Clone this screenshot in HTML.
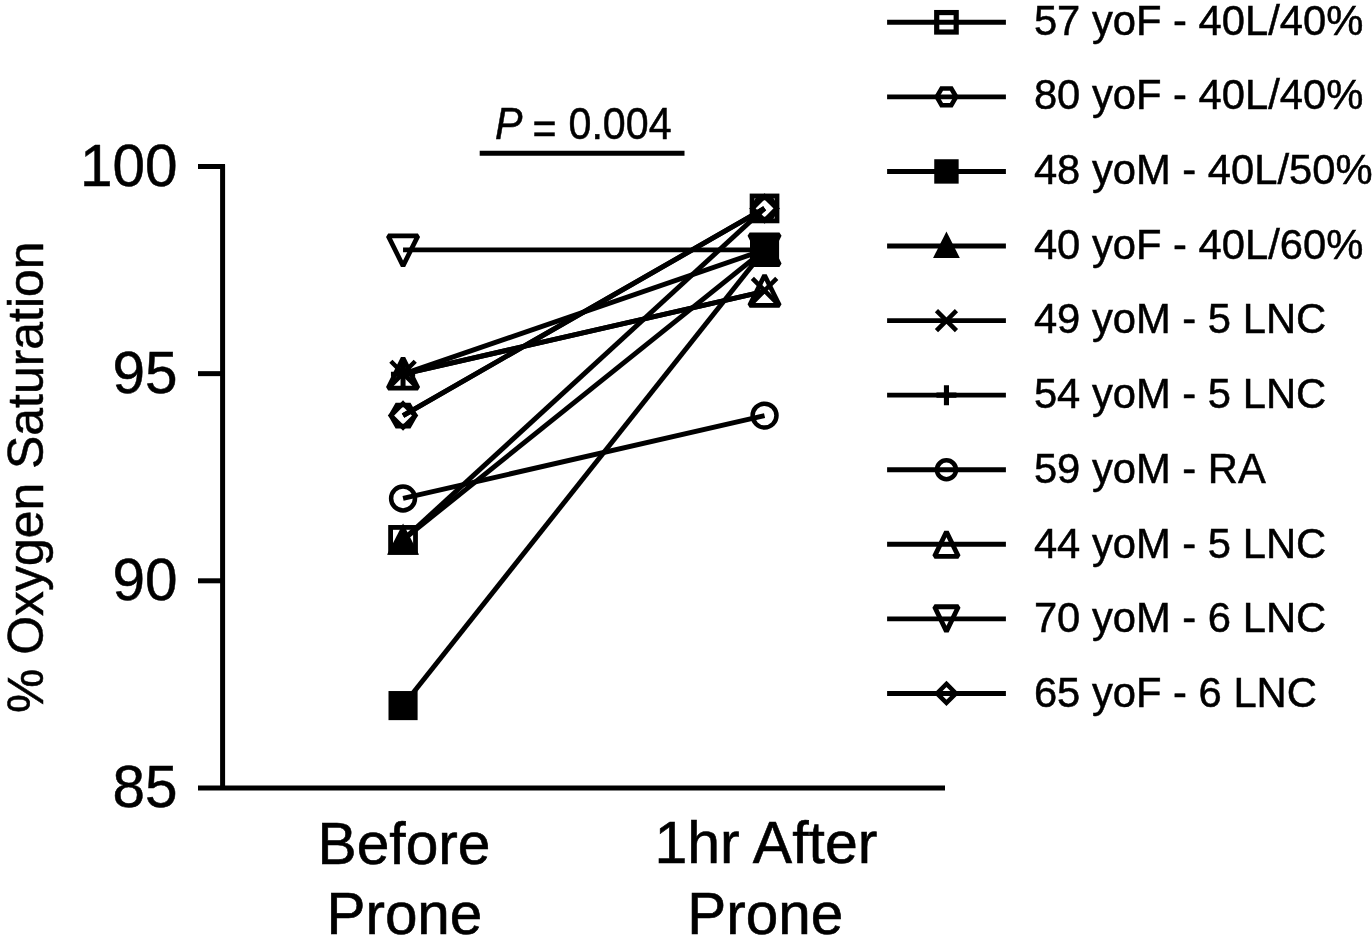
<!DOCTYPE html>
<html lang="en">
<head>
<meta charset="utf-8">
<title>Oxygen saturation before and after prone positioning</title>
<style>
html,body{margin:0;padding:0;background:#fff;}
body{width:1372px;height:947px;overflow:hidden;}
svg{display:block;}
text{font-family:"Liberation Sans",Arial,Helvetica,sans-serif;fill:#000;}
</style>
</head>
<body>
<svg width="1372" height="947" viewBox="0 0 1372 947">
<rect width="1372" height="947" fill="#fff"/>

<g stroke="#000" stroke-width="5" fill="none" stroke-linecap="butt">
<path d="M222.6,164.40L222.6,788"/>
<path d="M198,788L945,788"/>
<path d="M198,166.50L225,166.50"/>
<path d="M198,373.65L225,373.65"/>
<path d="M198,580.80L225,580.80"/>
</g>
<text transform="translate(177.50 185.80) scale(0.975 1.003)" font-size="60" text-anchor="end" stroke="#000" stroke-width="0.5">100</text>
<text transform="translate(177.50 392.95) scale(0.975 1.003)" font-size="60" text-anchor="end" stroke="#000" stroke-width="0.5">95</text>
<text transform="translate(177.50 600.10) scale(0.975 1.003)" font-size="60" text-anchor="end" stroke="#000" stroke-width="0.5">90</text>
<text transform="translate(177.50 807.25) scale(0.975 1.003)" font-size="60" text-anchor="end" stroke="#000" stroke-width="0.5">85</text>
<text transform="translate(43.00 477.20) rotate(-90) scale(0.998 1.015)" font-size="50" text-anchor="middle" stroke="#000" stroke-width="0.5">% Oxygen Saturation</text>
<text transform="translate(404.00 863.50) scale(0.995 1.008)" font-size="59" text-anchor="middle" stroke="#000" stroke-width="0.6">Before</text>
<text transform="translate(404.40 933.80) scale(0.99 1.008)" font-size="59" text-anchor="middle" stroke="#000" stroke-width="0.6">Prone</text>
<text transform="translate(765.90 863.30) scale(1.0 1.008)" font-size="59" text-anchor="middle" stroke="#000" stroke-width="0.6">1hr After</text>
<text transform="translate(765.30 933.50) scale(0.99 1.008)" font-size="59" text-anchor="middle" stroke="#000" stroke-width="0.6">Prone</text>
<text transform="translate(583.30 138.80) scale(0.981 1.04)" font-size="42" text-anchor="middle" stroke="#000" stroke-width="0.5"><tspan font-style="italic">P</tspan><tspan dx="-1.6" dy="3.6"> =</tspan><tspan dx="0.6" dy="-3.6"> 0.004</tspan></text>
<path d="M479.7,153.2L684.5,153.2" stroke="#000" stroke-width="4.9" fill="none"/>
<g stroke="#000" stroke-width="4.9" fill="none">
<path d="M403.05,539.87L764.55,208.43"/>
<path d="M403.05,415.58L764.55,208.43"/>
<path d="M403.05,705.59L764.55,249.86"/>
<path d="M403.05,539.87L764.55,249.86"/>
<path d="M403.05,374.15L764.55,291.29"/>
<path d="M403.05,374.15L764.55,249.86"/>
<path d="M403.05,498.44L764.55,415.58"/>
<path d="M403.05,374.15L764.55,291.29"/>
<path d="M403.05,249.86L764.55,249.86"/>
<path d="M403.05,415.58L764.55,208.43"/>
</g>
<rect transform="translate(403.05 539.87)" x="-12.45" y="-12.45" width="24.9" height="24.9" fill="none" stroke="#000" stroke-width="4.8" stroke-linejoin="miter"/>
<rect transform="translate(764.55 208.43)" x="-12.45" y="-12.45" width="24.9" height="24.9" fill="none" stroke="#000" stroke-width="4.8" stroke-linejoin="miter"/>
<polygon transform="translate(403.05 415.58)" points="-12.20,0.00 -6.10,-10.55 6.10,-10.55 12.20,0.00 6.10,10.55 -6.10,10.55" fill="none" stroke="#000" stroke-width="4.6" stroke-linejoin="miter"/>
<polygon transform="translate(764.55 208.43)" points="-12.20,0.00 -6.10,-10.55 6.10,-10.55 12.20,0.00 6.10,10.55 -6.10,10.55" fill="none" stroke="#000" stroke-width="4.6" stroke-linejoin="miter"/>
<rect transform="translate(403.05 705.59)" x="-14.55" y="-14.55" width="29.1" height="29.1" fill="#000"/>
<rect transform="translate(764.55 249.86)" x="-14.55" y="-14.55" width="29.1" height="29.1" fill="#000"/>
<polygon transform="translate(403.05 539.87)" points="0.00,-16.30 16.00,14.80 -16.00,14.80" fill="#000"/>
<polygon transform="translate(764.55 249.86)" points="0.00,-16.30 16.00,14.80 -16.00,14.80" fill="#000"/>
<path transform="translate(403.05 374.15)" d="M-12.2,-12.899999999999999L12.2,11.5M-12.2,11.5L12.2,-12.899999999999999" fill="none" stroke="#000" stroke-width="4.5" stroke-linejoin="miter"/>
<path transform="translate(764.55 291.29)" d="M-12.2,-12.899999999999999L12.2,11.5M-12.2,11.5L12.2,-12.899999999999999" fill="none" stroke="#000" stroke-width="4.5" stroke-linejoin="miter"/>
<path transform="translate(403.05 374.15)" d="M0,-12.1L0,12.1M-12.1,0L12.1,0" fill="none" stroke="#000" stroke-width="5.0" stroke-linejoin="miter"/>
<path transform="translate(764.55 249.86)" d="M0,-12.1L0,12.1M-12.1,0L12.1,0" fill="none" stroke="#000" stroke-width="5.0" stroke-linejoin="miter"/>
<circle transform="translate(403.05 498.44)" r="11.94" fill="none" stroke="#000" stroke-width="4.5" stroke-linejoin="miter"/>
<circle transform="translate(764.55 415.58)" r="11.94" fill="none" stroke="#000" stroke-width="4.5" stroke-linejoin="miter"/>
<polygon transform="translate(403.05 374.15)" points="0.00,-16.00 14.90,14.00 -14.90,14.00" fill="none" stroke="#000" stroke-width="4.7" stroke-linejoin="bevel"/>
<polygon transform="translate(764.55 291.29)" points="0.00,-16.00 14.90,14.00 -14.90,14.00" fill="none" stroke="#000" stroke-width="4.7" stroke-linejoin="bevel"/>
<polygon transform="translate(403.05 249.86)" points="0.00,16.00 14.90,-14.00 -14.90,-14.00" fill="none" stroke="#000" stroke-width="4.7" stroke-linejoin="bevel"/>
<polygon transform="translate(764.55 248.76)" points="0.00,16.00 14.90,-14.00 -14.90,-14.00" fill="none" stroke="#000" stroke-width="4.7" stroke-linejoin="bevel"/>
<polygon transform="translate(764.55 250.56)" points="0.00,-16.00 14.90,14.00 -14.90,14.00" fill="none" stroke="#000" stroke-width="4.7" stroke-linejoin="bevel"/>
<polygon transform="translate(403.05 415.58)" points="0.00,-12.10 12.10,0.00 0.00,12.10 -12.10,0.00" fill="none" stroke="#000" stroke-width="4.5" stroke-linejoin="miter"/>
<polygon transform="translate(764.55 208.43)" points="0.00,-12.10 12.10,0.00 0.00,12.10 -12.10,0.00" fill="none" stroke="#000" stroke-width="4.5" stroke-linejoin="miter"/>
<path d="M887.1,22.30L1005.9,22.30" stroke="#000" stroke-width="4.9" fill="none"/>
<rect transform="translate(946.45 22.30)" x="-9.74" y="-9.74" width="19.48" height="19.48" fill="none" stroke="#000" stroke-width="5.2" stroke-linejoin="miter"/>
<text transform="translate(1033.90 34.50) scale(0.994 1.03)" font-size="42" text-anchor="start" stroke="#000" stroke-width="0.5">57 yoF - 40L/40%</text>
<path d="M887.1,96.87L1005.9,96.87" stroke="#000" stroke-width="4.9" fill="none"/>
<polygon transform="translate(946.45 96.87)" points="-9.70,0.00 -4.85,-8.40 4.85,-8.40 9.70,0.00 4.85,8.40 -4.85,8.40" fill="none" stroke="#000" stroke-width="4.65" stroke-linejoin="miter"/>
<text transform="translate(1033.90 109.23) scale(0.994 1.03)" font-size="42" text-anchor="start" stroke="#000" stroke-width="0.5">80 yoF - 40L/40%</text>
<path d="M887.1,171.44L1005.9,171.44" stroke="#000" stroke-width="4.9" fill="none"/>
<rect transform="translate(946.45 171.44)" x="-12.2" y="-12.2" width="24.4" height="24.4" fill="#000"/>
<text transform="translate(1033.90 183.96) scale(0.994 1.03)" font-size="42" text-anchor="start" stroke="#000" stroke-width="0.5">48 yoM - 40L/50%</text>
<path d="M887.1,246.01L1005.9,246.01" stroke="#000" stroke-width="4.9" fill="none"/>
<polygon transform="translate(946.45 246.01)" points="0.00,-14.60 13.40,12.05 -13.40,12.05" fill="#000"/>
<text transform="translate(1033.90 258.69) scale(0.994 1.03)" font-size="42" text-anchor="start" stroke="#000" stroke-width="0.5">40 yoF - 40L/60%</text>
<path d="M887.1,320.58L1005.9,320.58" stroke="#000" stroke-width="4.9" fill="none"/>
<path transform="translate(946.45 320.58)" d="M-10.0,-10.0L10.0,10.0M-10.0,10.0L10.0,-10.0" fill="none" stroke="#000" stroke-width="4.5" stroke-linejoin="miter"/>
<text transform="translate(1033.90 333.42) scale(0.994 1.03)" font-size="42" text-anchor="start" stroke="#000" stroke-width="0.5">49 yoM - 5 LNC</text>
<path d="M887.1,395.15L1005.9,395.15" stroke="#000" stroke-width="4.9" fill="none"/>
<path transform="translate(946.45 395.15)" d="M0,-10.0L0,10.0M-10.0,0L10.0,0" fill="none" stroke="#000" stroke-width="5.1" stroke-linejoin="miter"/>
<text transform="translate(1033.90 408.15) scale(0.994 1.03)" font-size="42" text-anchor="start" stroke="#000" stroke-width="0.5">54 yoM - 5 LNC</text>
<path d="M887.1,469.72L1005.9,469.72" stroke="#000" stroke-width="4.9" fill="none"/>
<circle transform="translate(946.45 469.72)" r="9.5" fill="none" stroke="#000" stroke-width="4.6" stroke-linejoin="miter"/>
<text transform="translate(1033.90 482.88) scale(0.994 1.03)" font-size="42" text-anchor="start" stroke="#000" stroke-width="0.5">59 yoM - RA</text>
<path d="M887.1,544.29L1005.9,544.29" stroke="#000" stroke-width="4.9" fill="none"/>
<polygon transform="translate(946.45 544.29)" points="0.00,-12.50 11.90,12.10 -11.90,12.10" fill="none" stroke="#000" stroke-width="4.8" stroke-linejoin="bevel"/>
<text transform="translate(1033.90 557.61) scale(0.994 1.03)" font-size="42" text-anchor="start" stroke="#000" stroke-width="0.5">44 yoM - 5 LNC</text>
<path d="M887.1,618.86L1005.9,618.86" stroke="#000" stroke-width="4.9" fill="none"/>
<polygon transform="translate(946.45 618.86)" points="0.00,12.50 11.90,-12.10 -11.90,-12.10" fill="none" stroke="#000" stroke-width="4.8" stroke-linejoin="bevel"/>
<text transform="translate(1033.90 632.34) scale(0.994 1.03)" font-size="42" text-anchor="start" stroke="#000" stroke-width="0.5">70 yoM - 6 LNC</text>
<path d="M887.1,693.43L1005.9,693.43" stroke="#000" stroke-width="4.9" fill="none"/>
<polygon transform="translate(946.45 693.43)" points="0.00,-9.50 9.50,0.00 0.00,9.50 -9.50,0.00" fill="none" stroke="#000" stroke-width="4.5" stroke-linejoin="miter"/>
<text transform="translate(1033.90 707.07) scale(0.994 1.03)" font-size="42" text-anchor="start" stroke="#000" stroke-width="0.5">65 yoF - 6 LNC</text>
</svg>
</body>
</html>
